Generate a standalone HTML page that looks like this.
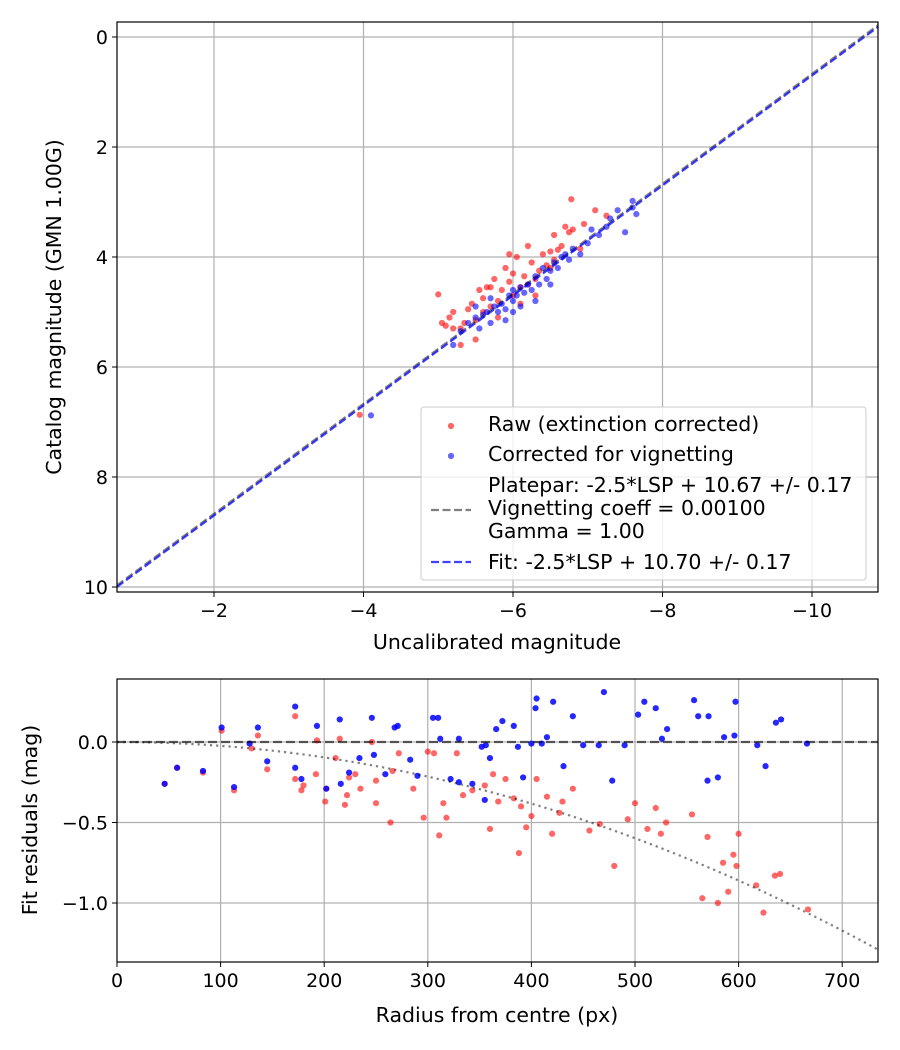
<!DOCTYPE html>
<html><head><meta charset="utf-8"><style>
body{margin:0;background:#fff;}
svg{display:block;font-family:"DejaVu Sans","Liberation Sans",sans-serif;}
</style></head><body>
<svg id="chart" width="900" height="1050"></svg>
<script>
// ---- top chart data ----
const rawX=[-5,-5.05,-5.1,-5.15,-5.2,-5.2,-5.3,-5.35,-5.4,-5.45,-5.5,-5.55,-5.6,-5.6,-5.65,-5.7,-5.75,-5.8,-5.85,-5.9,-5.95,-5.95,-6.0,-6.0,-6.05,-6.1,-6.15,-6.2,-6.2,-6.25,-6.3,-6.35,-6.4,-6.45,-6.5,-6.5,-6.55,-6.6,-6.65,-6.7,-6.75,-6.8,-6.9,-6.95,-7.1,-7.25,-6.55,-3.95,-5.8,-5.5,-6.1,-5.3,-6.3,-5.7,-6.78];
const rawY=[4.68,5.2,5.25,5.1,5.0,5.3,5.6,5.2,4.95,4.85,5.15,4.6,4.75,5.0,4.55,4.9,4.4,4.8,4.6,4.2,4.45,3.95,4.3,4.7,4.0,4.55,4.35,4.5,3.8,4.1,4.4,4.25,3.95,4.15,4.2,3.9,4.05,3.87,3.8,3.45,3.55,3.5,3.85,3.4,3.15,3.25,3.6,6.87,5.1,5.5,4.85,5.3,4.7,4.55,2.95];
const corX=[-4.1,-5.2,-5.3,-5.4,-5.5,-5.55,-5.6,-5.65,-5.7,-5.75,-5.8,-5.85,-5.9,-5.95,-6.0,-6.0,-6.05,-6.1,-6.15,-6.2,-6.25,-6.3,-6.35,-6.4,-6.45,-6.5,-6.55,-6.6,-6.65,-6.7,-6.75,-6.8,-6.9,-7.0,-7.05,-7.15,-7.25,-7.3,-7.4,-7.5,-7.6,-7.6,-7.65,-6.1,-5.9,-6.3,-5.7,-6.5,-6.0,-5.5];
const corY=[6.88,5.6,5.35,5.2,5.1,5.3,5.05,5.0,5.2,4.9,5.0,4.85,4.95,4.7,4.8,4.6,4.7,4.55,4.65,4.5,4.6,4.35,4.5,4.2,4.4,4.25,4.1,4.2,4.0,3.95,4.05,3.85,3.95,3.75,3.5,3.6,3.45,3.3,3.15,3.55,3.1,2.98,3.22,4.9,5.15,4.8,4.75,4.5,5.0,4.9];
const topXTicks=[-2,-4,-6,-8,-10];
const topYTicks=[0,2,4,6,8,10];
const plateZP=10.67, fitZP=10.70;
// ---- bottom chart data ----
const resRawR=[46,58,83,101,113,130,136,145,172,172,178,180,192,193,201,202,211,215,220,222,224,235,246,250,250,264,266,272,286,296,300,306,311,315,318,334,343,355,360,363,368,375,383,390,395,400,405,415,420,430,440,456,466,480,493,500,512,520,525,530,555,565,570,580,585,590,595,600,598,617,624,635,640,667,388,427,328,230];
const resRawV=[-0.26,-0.16,-0.19,0.07,-0.30,-0.04,0.04,-0.17,0.16,-0.23,-0.30,-0.27,-0.20,0.01,-0.37,-0.29,-0.10,0.02,-0.39,-0.33,-0.22,-0.29,0.00,-0.38,-0.24,-0.50,-0.18,-0.07,-0.29,-0.47,-0.06,-0.07,-0.58,-0.38,-0.47,-0.33,-0.30,-0.27,-0.54,-0.20,-0.37,-0.23,-0.35,-0.40,-0.53,-0.46,-0.23,-0.34,-0.57,-0.37,-0.29,-0.55,-0.51,-0.77,-0.48,-0.38,-0.54,-0.41,-0.57,-0.50,-0.45,-0.97,-0.59,-1.00,-0.75,-0.93,-0.70,-0.57,-0.77,-0.89,-1.06,-0.83,-0.82,-1.04,-0.69,-0.44,-0.07,-0.20];
const resCorR=[46,58,83,101,113,128,136,145,172,172,178,193,202,215,216,224,234,246,248,259,268,271,290,305,310,312,322,330,343,352,360,366,372,383,392,387,400,405,404,421,415,440,431,465,470,478,503,509,520,526,531,557,561,571,586,596,597,618,626,636,641,666,355,356,283,330,410,450,490,570,580];
const resCorV=[-0.26,-0.16,-0.18,0.09,-0.28,-0.01,0.09,-0.12,0.22,-0.16,-0.23,0.10,-0.29,0.14,-0.26,-0.19,-0.10,0.15,-0.08,-0.20,0.09,0.10,-0.21,0.15,0.15,0.02,-0.23,-0.25,-0.26,-0.03,-0.10,0.08,0.13,0.10,-0.22,-0.03,-0.01,0.27,0.21,0.25,0.03,0.16,-0.15,-0.02,0.31,-0.24,0.17,0.25,0.21,0.02,0.08,0.26,0.16,0.16,0.03,0.04,0.25,-0.02,-0.15,0.12,0.14,-0.01,-0.36,-0.02,-0.11,0.02,-0.01,-0.02,-0.02,-0.24,-0.22];
const botXTicks=[0,100,200,300,400,500,600,700];
const botYTicks=[0,-0.5,-1.0];
const botYLabels=["0.0","\u22120.5","\u22121.0"];
const vignK=2.39e-6;

const NS="http://www.w3.org/2000/svg";
const svg=document.getElementById('chart');
function mk(tag,attrs,parent){const e=document.createElementNS(NS,tag);for(const k in attrs)e.setAttribute(k,attrs[k]);(parent||svg).appendChild(e);return e;}
function minus(v){return String(v).replace('-','\u2212');}
const TF=19, AF=20.5, LF=20.5, PR=3.1;

// top axes
const T={l:117,r:878,t:22,b:592};
const tx=v=>214+(-v-2)*74.75;
const ty=v=>37+v*55;
const gTop=mk('g',{});


const clipT=mk('clipPath',{id:'ct'});mk('rect',{x:T.l,y:T.t,width:T.r-T.l,height:T.b-T.t},clipT);
topXTicks.forEach(v=>{const x=tx(v);
 const gl=mk('line',{x1:x,x2:x,y1:T.t,y2:T.b,stroke:'#b0b0b0','stroke-width':1.2},gTop);
 
 mk('line',{x1:x,x2:x,y1:T.b,y2:T.b+5,stroke:'#000'},gTop);
 const t=mk('text',{x:x,y:T.b+25,'font-size':TF,'text-anchor':'middle'},gTop);t.textContent=minus(v);
 });
topYTicks.forEach(v=>{const y=ty(v);
 const gl=mk('line',{x1:T.l,x2:T.r,y1:y,y2:y,stroke:'#b0b0b0','stroke-width':1.2},gTop);
 
 mk('line',{x1:T.l-5,x2:T.l,y1:y,y2:y,stroke:'#000'},gTop);
 const t=mk('text',{x:T.l-9,y:y+7,'font-size':TF,'text-anchor':'end'},gTop);t.textContent=v;
 });
const gPts=mk('g',{'clip-path':'url(#ct)'},gTop);
rawX.forEach((v,i)=>{const c=mk('circle',{cx:tx(v),cy:ty(rawY[i]),r:PR,fill:'red','fill-opacity':0.6},gPts);
 });
corX.forEach((v,i)=>{const c=mk('circle',{cx:tx(v),cy:ty(corY[i]),r:PR,fill:'blue','fill-opacity':0.6},gPts);
 });
const x0=-0.7,x1=-10.9;
const pl=mk('line',{x1:tx(x0),y1:ty(x0+plateZP),x2:tx(x1),y2:ty(x1+plateZP),stroke:'#000','stroke-opacity':0.5,'stroke-width':2.2,'stroke-dasharray':'8,3.5'},gPts);

const fl=mk('line',{x1:tx(x0),y1:ty(x0+fitZP),x2:tx(x1),y2:ty(x1+fitZP),stroke:'blue','stroke-opacity':0.75,'stroke-width':2.2,'stroke-dasharray':'8,3.5'},gPts);

mk('rect',{x:T.l,y:T.t,width:T.r-T.l,height:T.b-T.t,fill:'none',stroke:'#000','stroke-width':1.2},gTop);
let t1=mk('text',{x:497,y:649,'font-size':AF,'text-anchor':'middle'},gTop);t1.textContent='Uncalibrated magnitude';

t1=mk('text',{x:0,y:0,'font-size':AF,'text-anchor':'middle',transform:'translate(61,307) rotate(-90)'},gTop);t1.textContent='Catalog magnitude (GMN 1.00G)';

// legend
const lg=mk('g',{},gTop);

mk('rect',{x:421,y:407,width:445,height:173,rx:3,fill:'#fff','fill-opacity':0.8,stroke:'#ccc'},lg);
mk('circle',{cx:451,cy:426,r:PR,fill:'red','fill-opacity':0.6},lg);
mk('circle',{cx:451,cy:456,r:PR,fill:'blue','fill-opacity':0.6},lg);
mk('line',{x1:431,x2:471,y1:510,y2:510,stroke:'#000','stroke-opacity':0.5,'stroke-width':2.2,'stroke-dasharray':'8,3.5'},lg);
mk('line',{x1:431,x2:471,y1:562,y2:562,stroke:'blue','stroke-opacity':0.75,'stroke-width':2.2,'stroke-dasharray':'8,3.5'},lg);
[['Raw (extinction corrected)',431],['Corrected for vignetting',461],['Platepar: -2.5*LSP + 10.67 +/- 0.17',492],['Vignetting coeff = 0.00100',515],['Gamma = 1.00',538],['Fit: -2.5*LSP + 10.70 +/- 0.17',569]].forEach(a=>{
 const t=mk('text',{x:488,y:a[1],'font-size':LF},lg);t.textContent=a[0];
 });

// bottom axes
const B={l:117,r:878,t:679,b:962};
const bx=v=>117+v*1.036;
const by=v=>742-v*161;
const gBot=mk('g',{});


const clipB=mk('clipPath',{id:'cb'});mk('rect',{x:B.l,y:B.t,width:B.r-B.l,height:B.b-B.t},clipB);
botXTicks.forEach(v=>{const x=bx(v);
 if(v>0){const gl=mk('line',{x1:x,x2:x,y1:B.t,y2:B.b,stroke:'#b0b0b0','stroke-width':1.2},gBot);
 }
 mk('line',{x1:x,x2:x,y1:B.b,y2:B.b+5,stroke:'#000'},gBot);
 const t=mk('text',{x:x,y:B.b+25,'font-size':TF,'text-anchor':'middle'},gBot);t.textContent=v;
 });
botYTicks.forEach((v,i)=>{const y=by(v);
 const gl=mk('line',{x1:B.l,x2:B.r,y1:y,y2:y,stroke:'#b0b0b0','stroke-width':1.2},gBot);
 
 mk('line',{x1:B.l-5,x2:B.l,y1:y,y2:y,stroke:'#000'},gBot);
 const t=mk('text',{x:B.l-9,y:y+7,'font-size':TF,'text-anchor':'end'},gBot);t.textContent=botYLabels[i];
 });
const gBP=mk('g',{'clip-path':'url(#cb)'},gBot);
resRawR.forEach((v,i)=>{const c=mk('circle',{cx:bx(v),cy:by(resRawV[i]),r:PR,fill:'red','fill-opacity':0.6},gBP);
 });
resCorR.forEach((v,i)=>{const c=mk('circle',{cx:bx(v),cy:by(resCorV[i]),r:PR,fill:'blue','fill-opacity':0.85},gBP);
 });
const zl=mk('line',{x1:B.l,x2:B.r,y1:by(0),y2:by(0),stroke:'#000','stroke-opacity':0.6,'stroke-width':2.2,'stroke-dasharray':'9,4'},gBP);

let d='';for(let r=0;r<=740;r+=5){d+=(r?'L':'M')+bx(r)+','+by(-vignK*r*r);}
const vc=mk('path',{d:d,fill:'none',stroke:'#000','stroke-opacity':0.5,'stroke-width':2.2,'stroke-dasharray':'2.2,4'},gBP);

mk('rect',{x:B.l,y:B.t,width:B.r-B.l,height:B.b-B.t,fill:'none',stroke:'#000','stroke-width':1.2},gBot);
t1=mk('text',{x:497,y:1022,'font-size':AF,'text-anchor':'middle'},gBot);t1.textContent='Radius from centre (px)';

t1=mk('text',{x:0,y:0,'font-size':AF,'text-anchor':'middle',transform:'translate(37,820) rotate(-90)'},gBot);t1.textContent='Fit residuals (mag)';

</script>
</body></html>
